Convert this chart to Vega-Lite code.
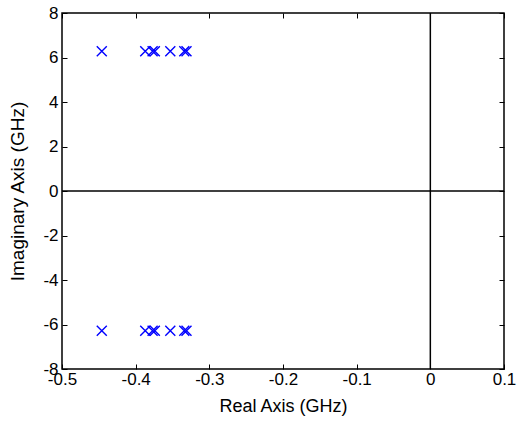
{
  "$schema": "https://vega.github.io/schema/vega-lite/v6.json",
  "width": 442,
  "height": 356,
  "autosize": "none",
  "padding": {"left": 62, "top": 13, "right": 14, "bottom": 56},
  "background": "white",
  "config": {
    "view": {"stroke": "black", "strokeWidth": 1.5},
    "font": "Liberation Sans",
    "axis": {
      "grid": false,
      "domain": false,
      "tickColor": "black",
      "tickSize": -5,
      "tickWidth": 1,
      "labelFlush": false,
      "labelOverlap": false,
      "labelFont": "Liberation Sans",
      "labelFontSize": 17,
      "labelColor": "black",
      "titleFont": "Liberation Sans",
      "titleFontSize": 18,
      "titleFontWeight": "normal",
      "titleColor": "black"
    }
  },
  "datasets": {
    "poles": [
      {"re": -0.446, "im": 6.28}, {"re": -0.387, "im": 6.28}, {"re": -0.377, "im": 6.28},
      {"re": -0.374, "im": 6.28}, {"re": -0.353, "im": 6.28}, {"re": -0.334, "im": 6.28},
      {"re": -0.331, "im": 6.28},
      {"re": -0.446, "im": -6.28}, {"re": -0.387, "im": -6.28}, {"re": -0.377, "im": -6.28},
      {"re": -0.374, "im": -6.28}, {"re": -0.353, "im": -6.28}, {"re": -0.334, "im": -6.28},
      {"re": -0.331, "im": -6.28}
    ],
    "zero": [{"v": 0}]
  },
  "layer": [
    {
      "data": {"name": "zero"},
      "mark": {"type": "rule", "color": "black", "strokeWidth": 1.5},
      "encoding": {
        "x": {"field": "v", "type": "quantitative", "scale": {"domain": [-0.5, 0.1], "nice": false, "zero": false},
          "axis": {"orient": "bottom", "values": [-0.5, -0.4, -0.3, -0.2, -0.1, 0, 0.1], "title": "Real Axis (GHz)", "labelPadding": 7, "titlePadding": 10,
            "labelExpr": "datum.value < 0 ? '-' + format(-datum.value, '~g') : format(datum.value, '~g')"}}
      }
    },
    {
      "data": {"name": "zero"},
      "mark": {"type": "rule", "color": "black", "strokeWidth": 1.5},
      "encoding": {
        "y": {"field": "v", "type": "quantitative", "scale": {"domain": [-8, 8], "nice": false, "zero": false},
          "axis": {"orient": "left", "values": [-8, -6, -4, -2, 0, 2, 4, 6, 8], "title": "Imaginary Axis (GHz)", "titleFontSize": 19, "labelPadding": 9, "titlePadding": 15,
            "labelExpr": "datum.value < 0 ? '-' + format(-datum.value, '~g') : format(datum.value, '~g')"}}
      }
    },
    {
      "data": {"name": "poles"},
      "mark": {"type": "point", "shape": "M-1,-1L1,1M-1,1L1,-1", "filled": false, "color": "#0000ff", "strokeWidth": 1.4, "size": 100, "opacity": 1},
      "encoding": {
        "x": {"field": "re", "type": "quantitative", "scale": {"domain": [-0.5, 0.1], "nice": false, "zero": false},
          "axis": {"orient": "top", "values": [-0.5, -0.4, -0.3, -0.2, -0.1, 0, 0.1], "labels": false, "title": null}},
        "y": {"field": "im", "type": "quantitative", "scale": {"domain": [-8, 8], "nice": false, "zero": false},
          "axis": {"orient": "right", "values": [-8, -6, -4, -2, 0, 2, 4, 6, 8], "labels": false, "title": null}}
      }
    }
  ],
  "resolve": {"axis": {"x": "independent", "y": "independent"}}
}
